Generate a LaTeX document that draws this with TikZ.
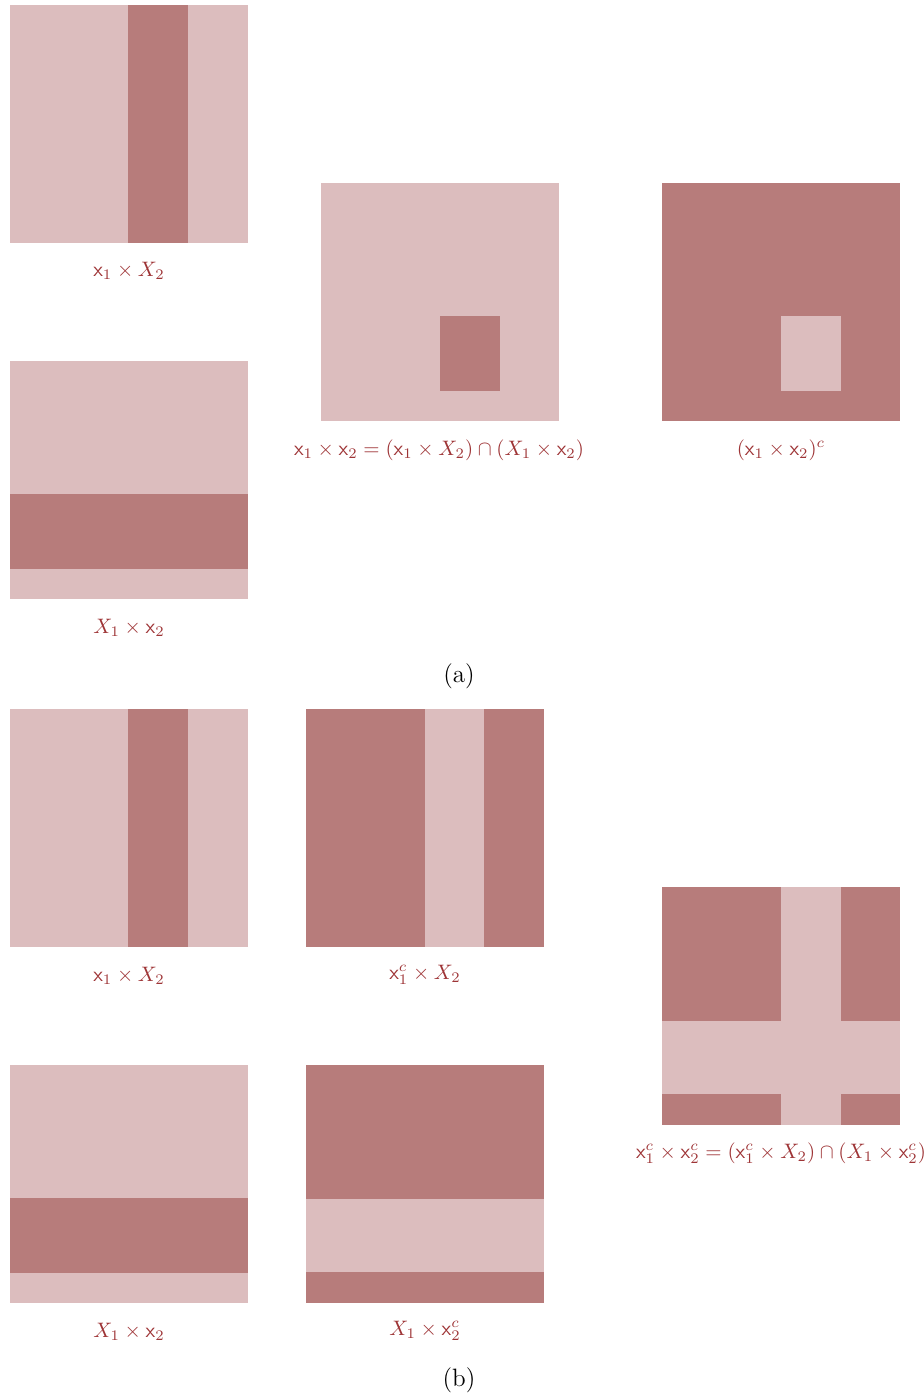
\documentclass[tikz,border=0pt]{standalone}
\usepackage{amsmath}
\definecolor{darkc}{RGB}{183,124,123}
\definecolor{lightc}{RGB}{220,189,190}
\definecolor{txtc}{RGB}{158,52,54}
\tikzset{
  lbl/.style={text=txtc, inner sep=0pt, anchor=center},
  capnode/.style={inner sep=0pt, anchor=center, font=\large},
}
\newcommand{\xs}{\mathsf{x}}
\begin{document}
\begin{tikzpicture}[x=0.478pt,y=-0.478pt]
\useasboundingbox (0,0) rectangle (924,1397);
% ---------- (a) ----------
% A1: x1 x X2
\fill[lightc] (10,5) rectangle (248,243);
\fill[darkc] (128,5) rectangle (188,243);
\node[lbl] (la1) at (129,271) {$\xs_1\times X_2$};
% A2: X1 x x2
\fill[lightc] (10,361) rectangle (248,599);
\fill[darkc] (10,494) rectangle (248,569);
\node[lbl] (la2) at (129,628) {$X_1\times \xs_2$};
% A3
\fill[lightc] (321,183) rectangle (559,421);
\fill[darkc] (440,316) rectangle (500,391);
\node[lbl] (la3) at (439,450) {$\xs_1\times \xs_2=(\xs_1\times X_2)\cap(X_1\times \xs_2)$};
% A4
\fill[darkc] (662,183) rectangle (900,421);
\fill[lightc] (781,316) rectangle (841,391);
\node[lbl] (la4) at (781,450) {$(\xs_1\times \xs_2)^c$};
\node[capnode] (capa) at (459,676) {(a)};
% ---------- (b) ----------
\fill[lightc] (10,709) rectangle (248,947);
\fill[darkc] (128,709) rectangle (188,947);
\node[lbl] (lb1) at (129,976) {$\xs_1\times X_2$};
\fill[darkc] (306,709) rectangle (544,947);
\fill[lightc] (425,709) rectangle (484,947);
\node[lbl] (lb2) at (425,975) {$\xs_1^c\times X_2$};
\fill[lightc] (10,1065) rectangle (248,1303);
\fill[darkc] (10,1198) rectangle (248,1273);
\node[lbl] (lb3) at (129,1332) {$X_1\times \xs_2$};
\fill[darkc] (306,1065) rectangle (544,1303);
\fill[lightc] (306,1199) rectangle (544,1272);
\node[lbl] (lb4) at (425,1331) {$X_1\times \xs_2^c$};
\fill[darkc] (662,887) rectangle (900,1125);
\fill[lightc] (781,887) rectangle (841,1125);
\fill[lightc] (662,1021) rectangle (900,1094);
\node[lbl] (lb5) at (781,1153) {$\xs_1^c\times \xs_2^c=(\xs_1^c\times X_2)\cap(X_1\times \xs_2^c)$};
\node[capnode] (capb) at (459,1380) {(b)};
\end{tikzpicture}
\end{document}
